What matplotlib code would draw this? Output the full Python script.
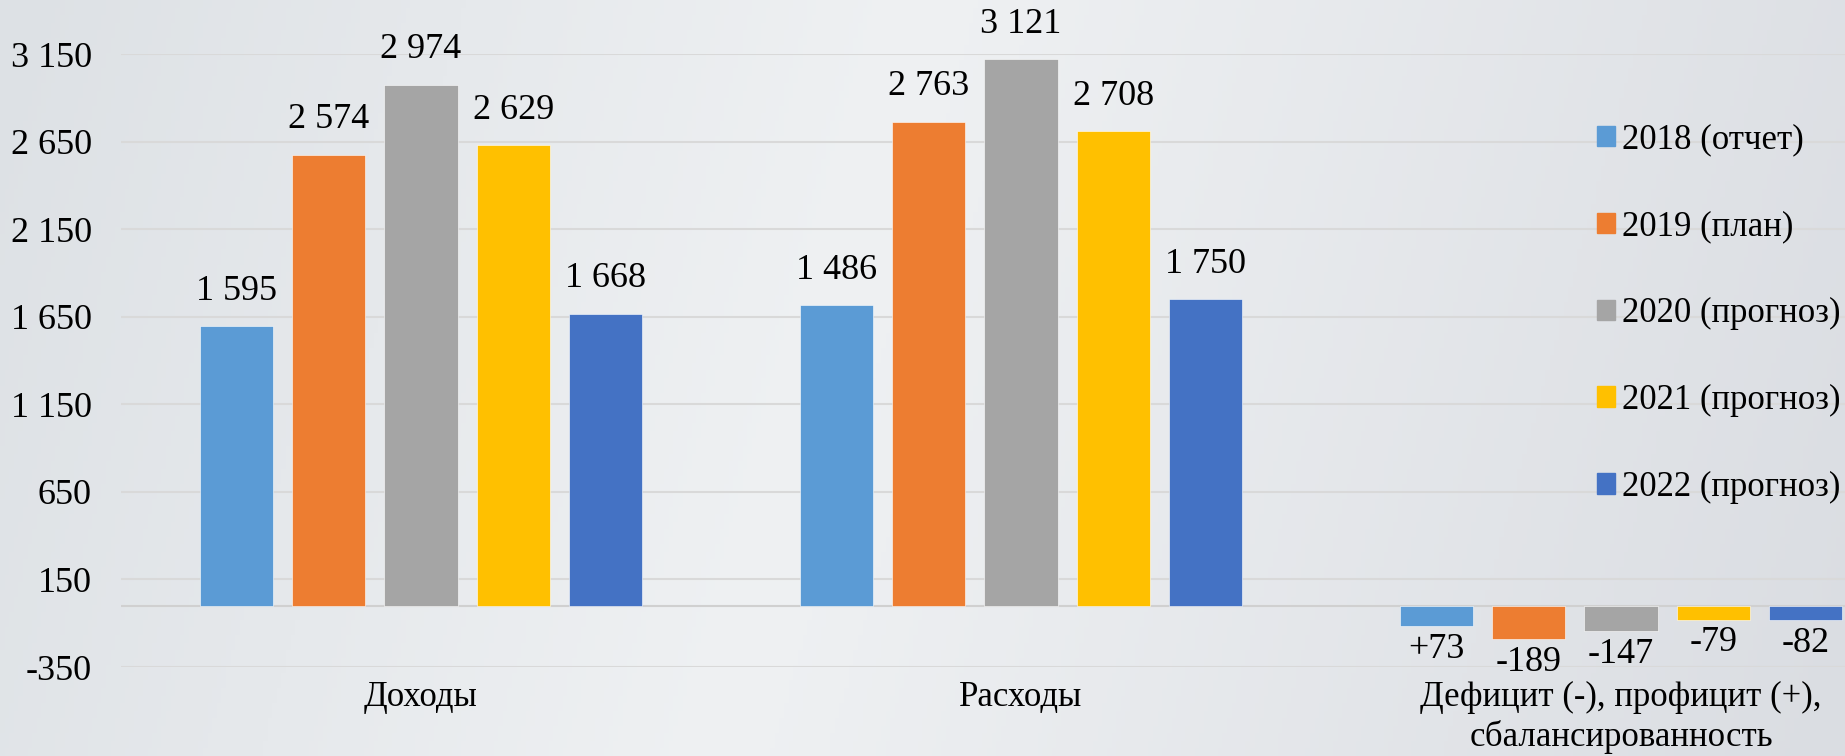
import matplotlib.pyplot as plt
import numpy as np
from matplotlib.patches import Patch
from matplotlib.colors import LinearSegmentedColormap

plt.rcParams['font.family'] = ['Liberation Serif', 'DejaVu Serif']

# data
categories = ['Доходы', 'Расходы', 'Дефицит (-), профицит (+),\nсбалансированность']
series = ['2018 (отчет)', '2019 (план)', '2020 (прогноз)', '2021 (прогноз)', '2022 (прогноз)']
colors = ['#5B9BD5', '#ED7D31', '#A5A5A5', '#FFC000', '#4472C4']

# bar heights as drawn in the picture
income = [1595, 2574, 2974, 2629, 1668]
expense = [1715, 2763, 3121, 2708, 1750]
balance = [-115, -189, -147, -79, -82]

# data labels as printed on the chart
income_lbl = ['1 595', '2 574', '2 974', '2 629', '1 668']
expense_lbl = ['1 486', '2 763', '3 121', '2 708', '1 750']
balance_lbl = ['+73', '-189', '-147', '-79', '-82']

yticks = [-350, 150, 650, 1150, 1650, 2150, 2650, 3150]

values = np.array([income, expense, balance])  # shape (cat, series)
labels = [income_lbl, expense_lbl, balance_lbl]

W, H = 1845, 756
fig = plt.figure(figsize=(W / 100, H / 100), dpi=100)

# background gradient
bg = fig.add_axes([0, 0, 1, 1], zorder=-10)
bg.axis('off')
cmap = LinearSegmentedColormap.from_list('bg', [(0, '#dde1e5'), (0.45, '#eff1f3'), (1, '#dadde2')])
gx = np.linspace(0, 1, 400)
gy = np.linspace(0, 1, 100)
GX, GY = np.meshgrid(gx, gy)
bg.imshow(GX * 0.9 + 0.1 * GY, cmap=cmap, aspect='auto', extent=[0, 1, 0, 1])

# axes: left 121px, 600px per category, gridlines -350 at y=667, 3150 at y=54
ax = fig.add_axes([121 / W, (H - 667) / H, 1800 / W, (667 - 54) / H])
ax.patch.set_alpha(0)
for s in ax.spines.values():
    s.set_visible(False)

x = np.arange(len(categories))
width = 0.1217
step = 0.154
for i, name in enumerate(series):
    xs = x + (i - 2) * step
    ax.bar(xs, values[:, i], width, color=colors[i], label=name, zorder=3,
           edgecolor='white', linewidth=0.4)
    for j in range(len(categories)):
        v = values[j, i]
        if v >= 0:
            ax.annotate(labels[j][i], (xs[j], v), xytext=(0, 19), textcoords='offset points',
                        ha='center', va='baseline', fontsize=26, annotation_clip=False)
        else:
            ax.annotate(labels[j][i], (xs[j], v), xytext=(0, -5), textcoords='offset points',
                        ha='center', va='top', fontsize=26, annotation_clip=False)

ax.axhline(0, color='#d0d0d0', linewidth=1.5, zorder=2)
ax.set_xlim(-0.5, 2.5)
ax.set_ylim(-350, 3150)
ax.set_yticks(yticks)
ax.set_yticklabels([f'{t:,}'.replace(',', ' ') for t in yticks])
ax.yaxis.grid(True, color='#d9d9d9', linewidth=1.5, zorder=0)
ax.set_axisbelow(True)
ax.set_xticks(x)
ax.set_xticklabels(categories, linespacing=1.25)
ax.tick_params(axis='y', length=0, pad=21, labelsize=26)
ax.tick_params(axis='x', length=0, pad=10, labelsize=25)

handles = [Patch(color=c) for c in colors]
fig.legend(handles, series, loc='upper left', bbox_to_anchor=(1580 / W, 1 - 106 / H),
           frameon=False, fontsize=25, handlelength=0.52, handleheight=0.52,
           handletextpad=0.2, labelspacing=1.55, borderpad=0)

fig.savefig('out.png', dpi=100)
